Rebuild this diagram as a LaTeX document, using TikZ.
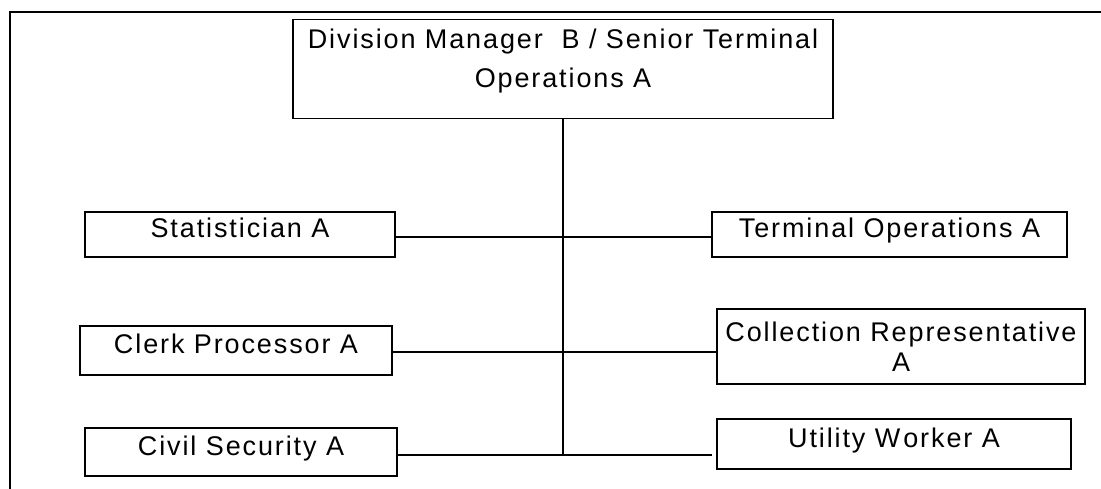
\documentclass[tikz,border=0pt]{standalone}
\usepackage{fontspec}
\setmainfont{Liberation Sans}[LetterSpace=7]
\usetikzlibrary{positioning}

\tikzset{
	box/.style={draw, line width=1.5pt, inner ysep=0pt, text height=20pt, text depth=14pt,
		font=\fontsize{27}{30}\selectfont},
	link/.style={line width=1.4pt}
}

\begin{document}
\begin{tikzpicture}[x=1pt, y=-1pt]
			%%%%% START %%%%%
			\useasboundingbox (0, 0) rectangle (1101, 489);
			
			% open frame round the chart
			\draw[line width=2pt] (10, 489) -- (10, 12) -- (1101, 12);
			
			% head of the division
			\node[box, anchor=north, minimum width=540pt, inner ysep=11pt, text height=57pt, text depth=20pt,
				align=center, font=\fontsize{27}{39}\selectfont] (boss) at (563, 19)
				{Division Manager\ \ B / Senior Terminal\\Operations A};
			
			% left column
			\node[box, minimum width=310pt, minimum height=45pt] (stat) at (240, 234.5) {Statistician A};
			\node[box, minimum width=312pt, minimum height=49pt] (clerk) at (236, 350.5) {Clerk Processor A};
			\node[box, minimum width=312pt, minimum height=48pt] (civil) at (241, 452) {Civil Security A};
			
			% right column
			\node[box, minimum width=355pt, minimum height=45pt] (term) at (889.5, 234.5) {Terminal Operations A};
			\node[box, minimum width=368pt, minimum height=75pt, text height=50pt, text depth=0pt,
				align=center] (coll) at (901, 346.5) {Collection Representative\\A};
			\node[box, minimum width=354pt, minimum height=50pt] (util) at (894, 444) {Utility W\kern3pt orker A};
			
			% trunk and branches
			\coordinate (foot) at (563, 455);
			\draw[link] (boss.south) -- (foot);
			\draw[link] ([yshift=-2.5pt]stat.east) -- ([yshift=-2.5pt]stat.east -| term.west);
			\draw[link] ([yshift=-1.5pt]clerk.east) -- ([yshift=-1.5pt, xshift=2pt]clerk.east -| coll.west);
			\draw[link] (civil.east |- foot) -- ([xshift=-4pt]foot -| util.west);
			%%%%% END %%%%%
\end{tikzpicture}
\end{document}
